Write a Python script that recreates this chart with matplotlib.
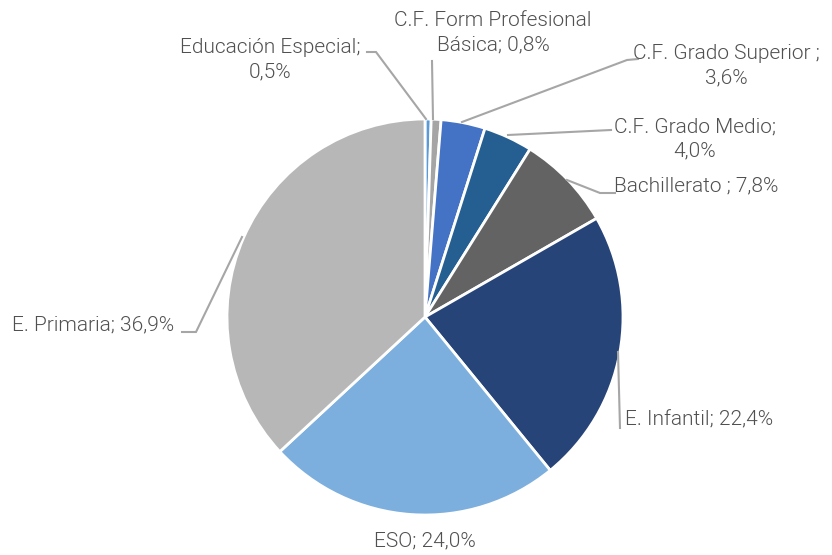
import matplotlib
matplotlib.use("Agg")
import matplotlib.pyplot as plt

# shares by level, clockwise from 12 o'clock
categories = ["Educación Especial", "C.F. Form Profesional Básica", "C.F. Grado Superior",
              "C.F. Grado Medio", "Bachillerato", "E. Infantil", "ESO", "E. Primaria"]
values = [0.5, 0.8, 3.6, 4.0, 7.8, 22.4, 24.0, 36.9]
colors = ["#5B9BD5", "#A5A5A5", "#4472C4", "#255E91", "#636363", "#264478", "#7CAFDD", "#B7B7B7"]
label_texts = ["Educación Especial;\n0,5%", "C.F. Form Profesional\nBásica; 0,8%",
               "C.F. Grado Superior ;\n3,6%", "C.F. Grado Medio;\n4,0%",
               "Bachillerato ; 7,8%", "E. Infantil; 22,4%", "ESO; 24,0%",
               "E. Primaria; 36,9%"]

H = 555
fig = plt.figure(figsize=(8.32, 5.55), dpi=100)
ax = fig.add_axes([0, 0, 1, 1])
ax.set_xlim(0, 832)
ax.set_ylim(0, H)
ax.axis("off")

ax.pie(values, colors=colors, startangle=90, counterclock=False,
       radius=198, center=(425, H - 317),
       wedgeprops=dict(edgecolor="white", linewidth=2))
ax.set_xlim(0, 832)
ax.set_ylim(0, H)
ax.set_aspect("equal")

# label placement (pixel coords, y from top): x, y, ha, leader polyline
label_pos = [
    (270, 60, "center", [(367, 52), (376, 52), (426, 119)]),
    (493, 33, "center", [(432, 61), (433, 119)]),
    (726, 66, "center", [(638, 59), (627, 60), (462, 122)]),
    (695, 139, "center", [(611, 130), (508, 135)]),
    (614, 186, "left", [(615, 193), (600, 193), (567, 180)]),
    (625, 420, "left", [(620, 428), (618, 352)]),
    (425, 541, "center", []),
    (12, 325, "left", [(182, 332), (196, 332), (242, 237)]),
]

for txt, (x, y, ha, pts) in zip(label_texts, label_pos):
    ax.text(x, H - y, txt, ha=ha, va="center", fontsize=15, color="#505050",
            family="Roboto", fontweight=300, linespacing=1.35)
    if pts:
        ax.plot([p[0] for p in pts], [H - p[1] for p in pts], color="#A6A6A6", lw=1.5,
                solid_joinstyle="miter")

fig.savefig("out.png", dpi=100)
